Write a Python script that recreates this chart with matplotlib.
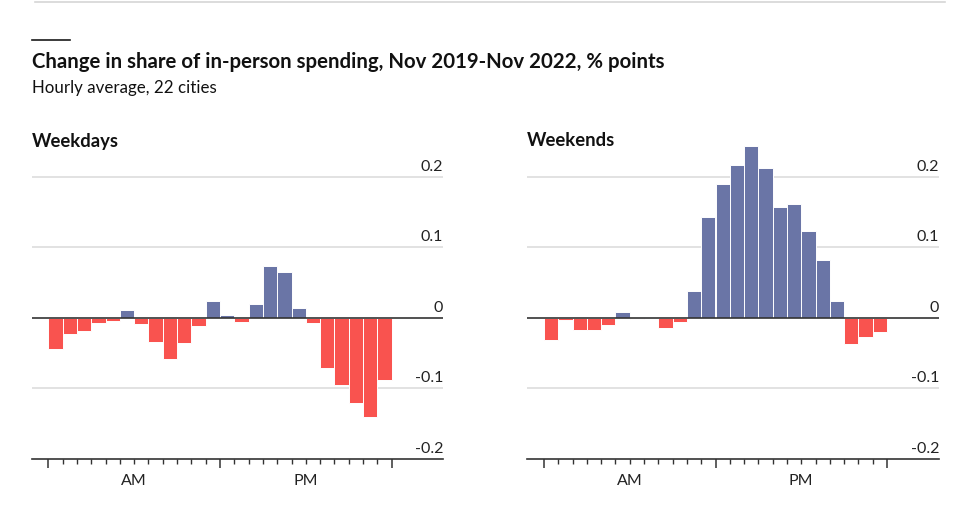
import matplotlib
matplotlib.use("Agg")
import matplotlib.pyplot as plt
import matplotlib.transforms as mtransforms
from matplotlib.lines import Line2D

plt.rcParams['font.family'] = ['Lato', 'DejaVu Sans']

hours = list(range(24))
weekdays = [-0.044, -0.024, -0.019, -0.008, -0.005, 0.011, -0.009, -0.035, -0.059, -0.036,
            -0.012, 0.023, 0.004, -0.006, 0.019, 0.073, 0.064, 0.013, -0.008, -0.072,
            -0.096, -0.121, -0.141, -0.088]
weekends = [-0.032, -0.004, -0.018, -0.018, -0.010, 0.008, -0.002, 0.0, -0.015, -0.007,
            0.037, 0.143, 0.190, 0.216, 0.243, 0.212, 0.157, 0.161, 0.123, 0.081,
            0.024, -0.038, -0.027, -0.020]
panel_titles = ["Weekdays", "Weekends"]
yticks = [0.2, 0.1, 0, -0.1, -0.2]
ytick_labels = ["0.2", "0.1", "0", "-0.1", "-0.2"]
period_labels = ["AM", "PM"]
period_pos = [6, 18]

BLUE = "#6a75a6"
RED = "#f9534f"
W, H = 960, 512

fig = plt.figure(figsize=(9.6, 5.12), dpi=100)
fig.patch.set_facecolor("white")

# top rule and short dark tag
fig.add_artist(Line2D([35 / W, 945 / W], [1 - 2 / H, 1 - 2 / H], color="#d6d6d6", lw=1.2))
fig.add_artist(Line2D([32 / W, 70 / W], [1 - 40 / H, 1 - 40 / H], color="#1a1a1a", lw=1.2))
fig.text(32 / W, 1 - 62 / H, "Change in share of in-person spending, Nov 2019-Nov 2022, % points",
         fontsize=14.7, fontweight="bold", va="center", ha="left", color="#111111")
fig.text(32 / W, 1 - 88 / H, "Hourly average, 22 cities", fontsize=12.2, va="center",
         ha="left", color="#111111")

ytop = 0.25
ybot = -0.2
zero_px = 317.5
unit = 705.0  # px per 1.0
top_px = zero_px - ytop * unit
bot_px = zero_px - ybot * unit

panels = [(32, 443, 48.3, 391.7, weekdays), (526.7, 939.3, 544.0, 887.0, weekends)]
for (x0, x1, h0, h24, vals), title in zip(panels, panel_titles):
    ax = fig.add_axes([x0 / W, 1 - bot_px / H, (x1 - x0) / W, (bot_px - top_px) / H])
    hw = (h24 - h0) / 24
    ax.set_xlim(-(h0 - x0) / hw, 24 + (x1 - h24) / hw)
    ax.set_ylim(ybot, ytop)
    for y in [0.2, 0.1, -0.1]:
        ax.axhline(y, color="#dadada", lw=1.1, zorder=0)
    colors = [BLUE if v > 0 else RED for v in vals]
    ax.bar(hours, vals, width=1, align="edge", color=colors, edgecolor="white",
           linewidth=0.7, zorder=2)
    ax.axhline(0, color="#333333", lw=1.2, zorder=3)
    for s in ["top", "left", "right"]:
        ax.spines[s].set_visible(False)
    ax.spines["bottom"].set_color("#333333")
    ax.spines["bottom"].set_linewidth(1.2)
    ax.set_yticks([])
    ax.set_xticks([0, 12, 24])
    ax.set_xticks(list(range(25)), minor=True)
    ax.set_xticklabels([])
    ax.tick_params(axis="x", which="major", length=6.5, width=1.1, color="#333333")
    ax.tick_params(axis="x", which="minor", length=3.5, width=1.0, color="#333333")
    trans = mtransforms.blended_transform_factory(ax.transAxes, ax.transData)
    for yv, lab in zip(yticks, ytick_labels):
        ax.text(1.0, yv + 0.004, lab, transform=trans, ha="right", va="bottom",
                fontsize=11.5, color="#222222")
    tx = mtransforms.blended_transform_factory(ax.transData, ax.transAxes)
    for p, lab in zip(period_pos, period_labels):
        ax.text(p, -0.07, lab, transform=tx, ha="center", va="center", fontsize=11.5,
                color="#222222")
    fig.text(x0 / W, 1 - 141 / H, title, fontsize=13.3, fontweight="bold",
             va="center", ha="left", color="#111111")

fig.savefig("out.png", dpi=100, facecolor="white")
